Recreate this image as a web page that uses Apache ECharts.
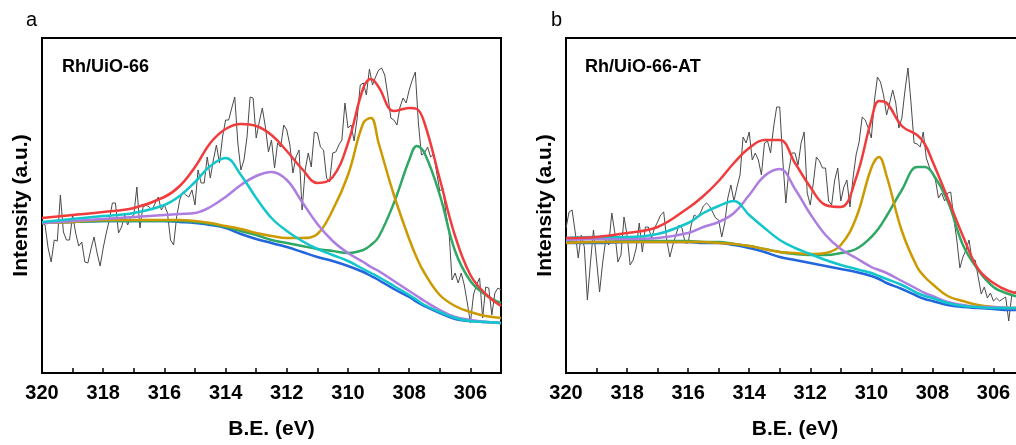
<!DOCTYPE html>
<html>
<head>
<meta charset="utf-8">
<title>Rh 3d XPS</title>
<script src="https://cdn.jsdelivr.net/npm/echarts@6/dist/echarts.min.js"></script>
<style>
  html, body { margin: 0; padding: 0; background: #fff; }
  #chart { width: 1016px; height: 445px; }
</style>
</head>
<body>
<div id="chart"></div>
<script>
// 数据
//-----

// raw spectra, one point every 0.1 eV starting from 320 eV
var rawStart = 320;
var rawStep = 0.1;
var aRaw = [
  150, 148, 125, 111, 133, 132, 178, 141, 133, 133,
  158, 140, 127, 131, 111, 110, 124, 136, 120, 107,
  125, 140, 153, 170, 170, 140, 146, 158, 148, 156,
  158, 186, 145, 166, 168, 166, 163, 170, 176, 163,
  168, 160, 133, 128, 156, 173, 181, 178, 176, 183,
  168, 203, 190, 190, 216, 195, 213, 228, 210, 236,
  253, 253, 265, 276, 230, 203, 213, 236, 276, 275,
  235, 251, 265, 246, 221, 233, 205, 230, 226, 248,
  243, 228, 200, 216, 223, 163, 203, 220, 206, 241,
  240, 226, 223, 195, 191, 220, 221, 228, 233, 270,
  245, 248, 232, 255, 288, 290, 278, 304, 288, 296,
  303, 305, 298, 278, 255, 253, 248, 266, 275, 270,
  283, 293, 301, 250, 218, 220, 226, 216, 219, 200,
  182, 185, 160, 142, 93, 100, 90, 100, 88, 70,
  50, 78, 88, 95, 55, 86, 85, 58, 80, 85,
  83
];
var bRaw = [
  145, 161, 163, 141, 115, 138, 126, 73, 110, 143,
  113, 81, 110, 133, 128, 160, 140, 111, 118, 156,
  138, 108, 113, 125, 150, 121, 146, 146, 135, 145,
  151, 158, 161, 133, 116, 128, 138, 148, 145, 130,
  130, 148, 158, 156, 160, 167, 170, 167, 161, 155,
  153, 136, 150, 175, 188, 172, 186, 198, 236, 230,
  241, 213, 220, 213, 198, 230, 232, 220, 246, 266,
  266, 213, 170, 203, 220, 220, 208, 230, 241, 180,
  168, 190, 216, 212, 205, 205, 172, 168, 193, 205,
  172, 186, 193, 166, 195, 218, 231, 256, 253, 245,
  235, 272, 296, 291, 278, 258, 270, 283, 270, 245,
  255, 282, 305, 270, 230, 229, 226, 241, 215, 206,
  200, 193, 175, 180, 172, 180, 181, 155, 133, 105,
  116, 123, 133, 113, 113, 96, 79, 86, 75, 80,
  72, 75, 72, 74, 76, 52, 78, 80, 85, 80,
  75
];

// fitted curves, panel a
var aFitE = [320, 319, 318, 317, 316, 315.5, 315, 314.5, 314, 313.5, 313, 312.5, 312, 311.5, 311,
  310.5, 310, 309.5, 309.25, 309, 308.5, 308, 307.75, 307.5, 307, 306.5, 306, 305.5, 305];
var aBg     = [150, 151, 152, 152, 152, 151, 150, 148, 145, 139, 134, 130, 126, 121, 116,
  112, 107, 101, 97, 93, 84, 76, 71, 67, 60, 54, 52, 51, 50];
var aGreen  = [150, 151, 152, 152, 152, 152, 151, 149, 146, 142, 138, 133, 130, 127, 124,
  122, 120, 123, 128, 136, 170, 213, 227, 220, 178, 122, 92, 78, 70];
var aGold   = [150, 151, 153, 153, 153, 153, 152, 150, 147, 144, 140, 137, 135, 135, 139,
  163, 198, 250, 255, 230, 178, 134, 115, 100, 78, 67, 61, 57, 55];
var aCyan   = [151, 154, 157, 160, 168, 177, 191, 207, 215, 198, 175, 155, 142, 132, 124,
  118, 112, 104, 100, 96, 87, 78, 73, 68, 61, 55, 52, 51, 50];
var aPurple = [150, 152, 154, 156, 158, 159, 160, 166, 176, 188, 197, 201, 193, 171, 149,
  132, 120, 111, 106, 102, 92, 82, 77, 72, 63, 56, 53, 51, 50];
var aEnv    = [155, 158, 161, 165, 176, 187, 206, 230, 244, 249, 247, 238, 222, 204, 190,
  196, 230, 285, 294, 286, 262, 265, 264, 250, 194, 137, 98, 79, 67];

// fitted curves, panel b
var bFitE = [320, 319, 318, 317, 316, 315.5, 315, 314.5, 314, 313.5, 313, 312.5, 312, 311.5, 311,
  310.5, 310, 309.75, 309.5, 309, 308.5, 308.25, 308, 307.5, 307, 306.5, 306, 305.5, 305];
var bBg     = [130, 130, 131, 131, 131, 130, 130, 128, 125, 121, 116, 113, 110, 107, 104,
  101, 97, 94, 90, 84, 77, 74, 72, 68, 66, 65, 64, 63, 63];
var bGreen  = [131, 131, 132, 132, 132, 131, 131, 129, 127, 124, 121, 119, 118, 118, 120,
  124, 136, 145, 157, 183, 206, 206, 200, 172, 128, 103, 86, 79, 75];
var bGold   = [130, 131, 131, 131, 131, 131, 130, 129, 127, 124, 121, 120, 119, 120, 128,
  155, 205, 216, 197, 142, 106, 96, 89, 77, 72, 68, 66, 65, 65];
var bCyan   = [135, 136, 136, 139, 150, 160, 167, 172, 158, 145, 133, 125, 119, 113, 108,
  104, 100, 97, 94, 88, 80, 77, 75, 70, 67, 66, 65, 65, 65];
var bPurple = [133, 134, 134, 135, 140, 146, 151, 160, 178, 197, 204, 184, 159, 138, 124,
  115, 106, 103, 100, 92, 84, 80, 77, 71, 68, 66, 66, 65, 65];
var bEnv    = [135, 136, 140, 146, 165, 177, 192, 210, 225, 233, 233, 210, 186, 168, 166,
  195, 253, 272, 270, 247, 238, 229, 212, 175, 137, 104, 90, 82, 79];

// 画图
//-----

var FONT = '"Liberation Sans", Arial, sans-serif';
var colors = {
  raw: '#4a4a4a',
  bg: '#2266dd',
  green: '#2fa866',
  gold: '#cc9a00',
  cyan: '#12c6cc',
  purple: '#ad7de2',
  env: '#f03c3c'
};

// zip x and y arrays
function pairs(xs, ys) {
  var out = [];
  for (var i = 0; i < ys.length; i++) {
    out.push([xs[i], ys[i]]);
  }
  return out;
}

function rawPairs(ys) {
  var out = [];
  for (var i = 0; i < ys.length; i++) {
    out.push([+(rawStart - i * rawStep).toFixed(1), ys[i]]);
  }
  return out;
}

function xAxisFor(idx) {
  return {
    type: 'value',
    gridIndex: idx,
    min: 305,
    max: 320,
    interval: 1,
    inverse: true,
    name: 'B.E. (eV)',
    nameLocation: 'middle',
    nameGap: 46,
    nameTextStyle: { fontFamily: FONT, fontWeight: 'bold', fontSize: 21, color: '#000' },
    axisLine: { show: true, lineStyle: { color: '#000', width: 2 } },
    axisTick: { show: true, inside: true, length: 5, lineStyle: { color: '#000', width: 1.5 } },
    axisLabel: {
      margin: 10,
      fontFamily: FONT, fontWeight: 'bold', fontSize: 20, color: '#000',
      formatter: function(v) { return v % 2 === 0 ? String(v) : ''; }
    },
    splitLine: { show: false }
  };
}

function yAxisFor(idx) {
  return {
    type: 'value',
    gridIndex: idx,
    min: 0,
    max: 335,
    name: 'Intensity (a.u.)',
    nameLocation: 'middle',
    nameGap: 10,
    nameTextStyle: { fontFamily: FONT, fontWeight: 'bold', fontSize: 21, color: '#000' },
    axisLine: { show: true, lineStyle: { color: '#000', width: 2 } },
    axisTick: { show: false },
    axisLabel: { show: false },
    splitLine: { show: false }
  };
}

function line(name, idx, data, color, width, smooth) {
  return {
    name: name,
    type: 'line',
    xAxisIndex: idx,
    yAxisIndex: idx,
    data: data,
    smooth: smooth,
    symbol: 'none',
    silent: true,
    lineStyle: { color: color, width: width }
  };
}

function panelSeries(idx, raw, fitE, bg, green, gold, cyan, purple, env) {
  return [
    line('raw', idx, rawPairs(raw), colors.raw, 1, false),
    line('background', idx, pairs(fitE, bg), colors.bg, 2.5, 0.4),
    line('peak 5', idx, pairs(fitE, green), colors.green, 2.5, 0.4),
    line('peak 4', idx, pairs(fitE, gold), colors.gold, 2.5, 0.4),
    line('peak 3', idx, pairs(fitE, purple), colors.purple, 2.5, 0.4),
    line('peak 2', idx, pairs(fitE, cyan), colors.cyan, 2.5, 0.4),
    line('envelope', idx, pairs(fitE, env), colors.env, 2.5, 0.4)
  ];
}

var myChart = echarts.init(document.getElementById('chart'), null, { renderer: 'canvas' });

var option = {
  animation: false,
  backgroundColor: '#fff',
  title: [
    { text: 'a', left: 21, top: 5, textStyle: { fontFamily: FONT, fontWeight: 'normal', fontSize: 20, color: '#000' } },
    { text: 'b', left: 546, top: 5, textStyle: { fontFamily: FONT, fontWeight: 'normal', fontSize: 20, color: '#000' } },
    { text: 'Rh/UiO-66', left: 57, top: 53, textStyle: { fontFamily: FONT, fontWeight: 'bold', fontSize: 18, color: '#000' } },
    { text: 'Rh/UiO-66-AT', left: 580, top: 53, textStyle: { fontFamily: FONT, fontWeight: 'bold', fontSize: 18, color: '#000' } }
  ],
  grid: [
    { left: 42, top: 38, width: 459, height: 335, outerBoundsMode: 'none', containLabel: false,
      show: true, borderColor: '#000', borderWidth: 2, backgroundColor: 'transparent' },
    { left: 566, top: 38, width: 458, height: 335, outerBoundsMode: 'none', containLabel: false,
      show: true, borderColor: '#000', borderWidth: 2, backgroundColor: 'transparent' }
  ],
  xAxis: [xAxisFor(0), xAxisFor(1)],
  yAxis: [yAxisFor(0), yAxisFor(1)],
  series: panelSeries(0, aRaw, aFitE, aBg, aGreen, aGold, aCyan, aPurple, aEnv)
    .concat(panelSeries(1, bRaw, bFitE, bBg, bGreen, bGold, bCyan, bPurple, bEnv))
};

myChart.setOption(option);
</script>
</body>
</html>
